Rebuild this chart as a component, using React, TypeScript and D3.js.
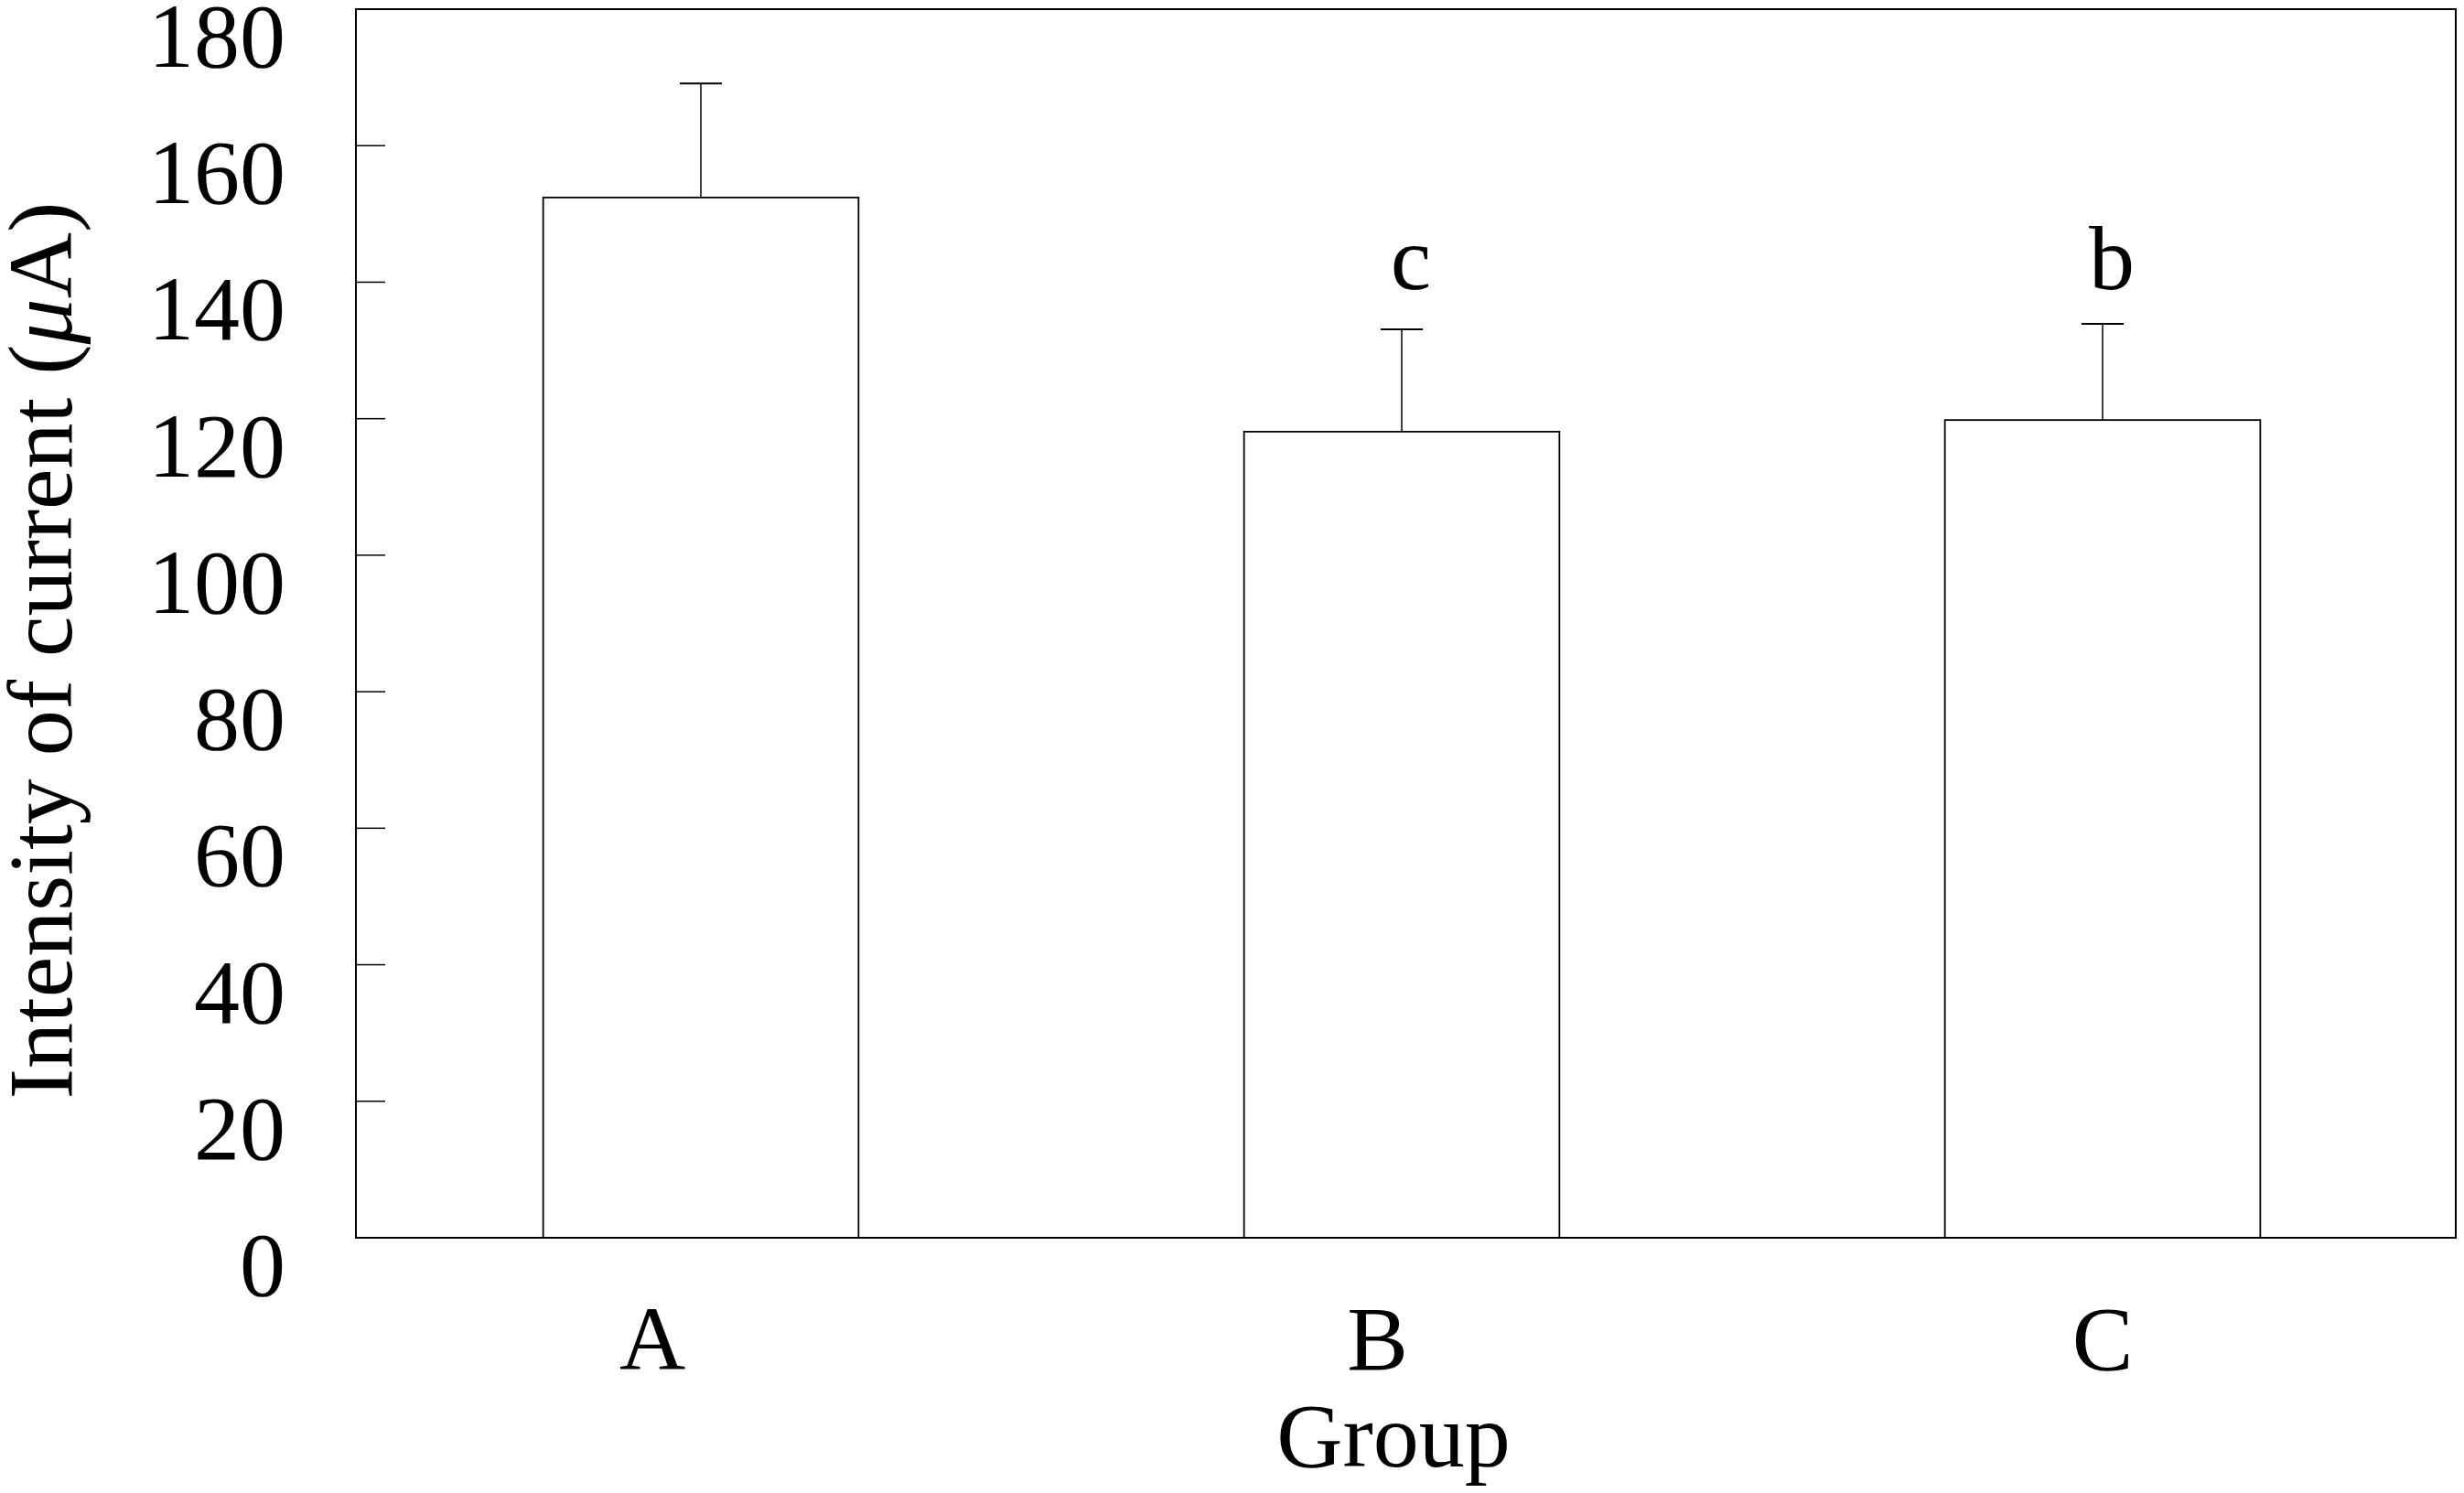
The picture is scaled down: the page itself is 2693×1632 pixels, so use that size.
import React from "react";
import * as d3 from "d3";

const groups = ["A", "B", "C"];
const means = [152.4, 118.1, 119.8];
const errors = [16.7, 15.0, 14.1];
const sigLetters = ["", "c", "b"];
const letterLevel = 139;
const yTicks = [0, 20, 40, 60, 80, 100, 120, 140, 160, 180];
const yTitle = "Intensity of current (";
const xTitle = "Group";

const W = 2693;
const H = 1632;
const FONT = "'Liberation Serif', 'Times New Roman', serif";

export default function App() {
  const frame = { left: 389, right: 2684, top: 10, bottom: 1353 };
  const y = d3.scaleLinear().domain([0, 180]).range([frame.bottom, frame.top]);
  const x = d3
    .scaleBand<string>()
    .domain(groups)
    .range([383, 2681])
    .paddingInner(0.55)
    .paddingOuter(0.275);
  const xLab = d3.scalePoint<string>().domain(groups).range([713, 2298]);
  const bw = x.bandwidth();
  const capHalf = 23;

  return (
    <svg
      width={W}
      height={H}
      style={{ position: "absolute", left: 0, top: 0, background: "#fff" }}
      fontFamily={FONT}
    >
      <rect x={0} y={0} width={W} height={H} fill="#fff" />
      {/* bars */}
      {groups.map((g, i) => {
        const cx = (x(g) as number) + bw / 2;
        return (
          <g key={g}>
            <rect
              x={x(g)}
              y={y(means[i])}
              width={bw}
              height={y(0) - y(means[i])}
              fill="#fff"
              stroke="#000"
              strokeWidth={1.8}
            />
            <line
              x1={cx}
              x2={cx}
              y1={y(means[i])}
              y2={y(means[i] + errors[i])}
              stroke="#000"
              strokeWidth={1.5}
            />
            <line
              x1={cx - capHalf}
              x2={cx + capHalf}
              y1={y(means[i] + errors[i])}
              y2={y(means[i] + errors[i])}
              stroke="#000"
              strokeWidth={2}
            />
            {sigLetters[i] && (
              <text
                x={cx + 10}
                y={y(letterLevel)}
                fontSize={100}
                textAnchor="middle"
                fill="#000"
              >
                {sigLetters[i]}
              </text>
            )}
          </g>
        );
      })}
      {/* frame */}
      <rect
        x={frame.left}
        y={frame.top}
        width={frame.right - frame.left}
        height={frame.bottom - frame.top}
        fill="none"
        stroke="#000"
        strokeWidth={2}
      />
      {/* y ticks */}
      {yTicks.map((t) => (
        <g key={t}>
          <line
            x1={frame.left}
            x2={frame.left + 32}
            y1={y(t)}
            y2={y(t)}
            stroke="#000"
            strokeWidth={1.5}
          />
          <text
            x={312}
            y={y(t) + 63}
            fontSize={100}
            textAnchor="end"
            fill="#000"
          >
            {t}
          </text>
        </g>
      ))}
      {/* x labels */}
      {groups.map((g) => (
        <text
          key={g}
          x={xLab(g)}
          y={1497}
          fontSize={100}
          textAnchor="middle"
          fill="#000"
        >
          {g}
        </text>
      ))}
      <text x={1523} y={1603} fontSize={100} textAnchor="middle" fill="#000">
        {xTitle}
      </text>
      <text
        transform={`translate(78, 711) rotate(-90)`}
        fontSize={100}
        textAnchor="middle"
        fill="#000"
      >
        {yTitle}
        <tspan fontStyle="italic">μ</tspan>
        {"A)"}
      </text>
    </svg>
  );
}
